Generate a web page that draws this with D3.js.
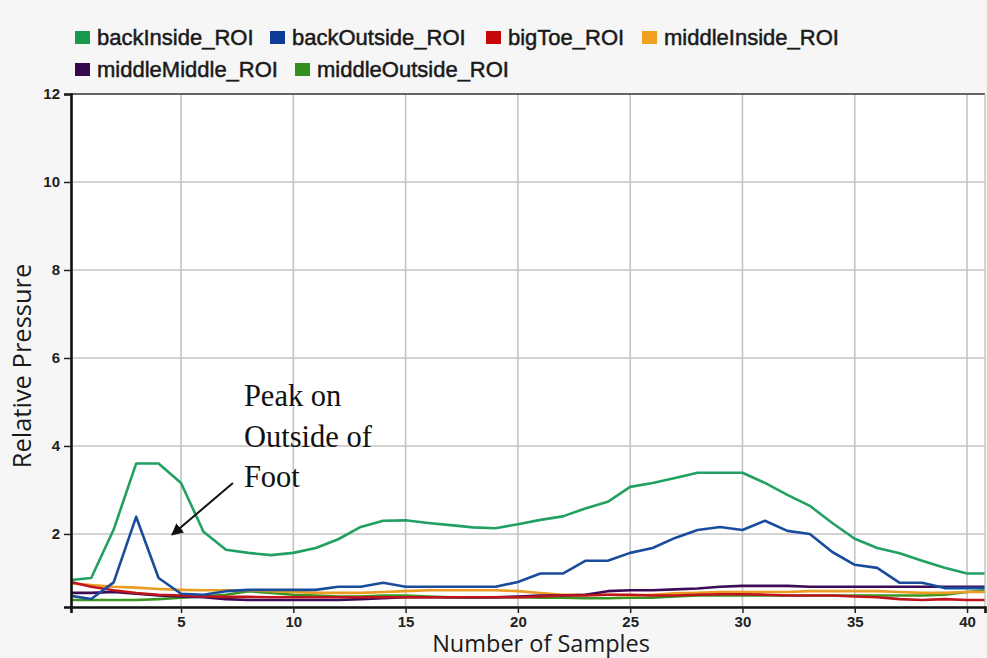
<!DOCTYPE html>
<html>
<head>
<meta charset="utf-8">
<script src="https://cdn.jsdelivr.net/npm/d3@7/dist/d3.min.js"></script>
<style>
  html, body { margin: 0; padding: 0; background: #f6f6f6; }
  svg { display: block; }
</style>
</head>
<body>
<svg id="chart" width="987" height="658"></svg>
<script>
// ---- data ----
const samples = d3.range(0, 42);
const seriesNames = ["backInside_ROI", "backOutside_ROI", "bigToe_ROI", "middleInside_ROI", "middleMiddle_ROI", "middleOutside_ROI"];
const seriesColors = ["#22a062", "#1a4c9c", "#c0141c", "#eb9c22", "#3c0c58", "#3a9422"];
const legendColors = ["#189a4c", "#0c3c98", "#c40808", "#f0a020", "#38084e", "#34901c"];

const backInside = [0.95, 1.0, 2.1, 3.6, 3.6, 3.16, 2.05, 1.64, 1.57, 1.52, 1.57, 1.68, 1.88, 2.16, 2.3, 2.31, 2.25, 2.2, 2.15, 2.13, 2.22, 2.32, 2.4, 2.58, 2.73, 3.07, 3.16, 3.27, 3.39, 3.39, 3.39, 3.16, 2.89, 2.64, 2.25, 1.89, 1.68, 1.56, 1.39, 1.23, 1.1, 1.1];
const backOutside = [0.6, 0.52, 0.9, 2.39, 1.0, 0.64, 0.62, 0.7, 0.73, 0.73, 0.73, 0.73, 0.8, 0.8, 0.89, 0.8, 0.8, 0.8, 0.8, 0.8, 0.91, 1.1, 1.1, 1.39, 1.39, 1.57, 1.68, 1.91, 2.09, 2.16, 2.09, 2.3, 2.07, 2.0, 1.59, 1.3, 1.23, 0.89, 0.89, 0.77, 0.77, 0.77];
const bigToe = [0.92, 0.8, 0.72, 0.66, 0.62, 0.6, 0.58, 0.57, 0.57, 0.56, 0.56, 0.56, 0.56, 0.56, 0.56, 0.56, 0.56, 0.56, 0.56, 0.56, 0.56, 0.58, 0.6, 0.6, 0.62, 0.62, 0.6, 0.6, 0.62, 0.63, 0.63, 0.62, 0.6, 0.6, 0.6, 0.58, 0.56, 0.52, 0.5, 0.52, 0.5, 0.5];
const middleInside = [0.88, 0.84, 0.8, 0.78, 0.75, 0.73, 0.72, 0.72, 0.72, 0.7, 0.68, 0.66, 0.66, 0.66, 0.68, 0.7, 0.72, 0.72, 0.72, 0.72, 0.7, 0.66, 0.62, 0.62, 0.62, 0.6, 0.62, 0.65, 0.66, 0.68, 0.68, 0.68, 0.68, 0.7, 0.7, 0.7, 0.7, 0.68, 0.66, 0.66, 0.68, 0.68];
const middleMiddle = [0.66, 0.66, 0.68, 0.64, 0.6, 0.58, 0.56, 0.52, 0.5, 0.5, 0.5, 0.5, 0.5, 0.52, 0.54, 0.56, 0.56, 0.56, 0.56, 0.56, 0.58, 0.6, 0.6, 0.62, 0.7, 0.72, 0.72, 0.74, 0.76, 0.8, 0.82, 0.82, 0.82, 0.8, 0.8, 0.8, 0.8, 0.8, 0.8, 0.8, 0.8, 0.8];
const middleOutside = [0.5, 0.5, 0.5, 0.5, 0.52, 0.55, 0.58, 0.62, 0.7, 0.66, 0.62, 0.6, 0.58, 0.58, 0.6, 0.6, 0.58, 0.56, 0.55, 0.56, 0.56, 0.55, 0.55, 0.54, 0.54, 0.55, 0.55, 0.58, 0.6, 0.6, 0.6, 0.6, 0.6, 0.6, 0.6, 0.6, 0.6, 0.6, 0.6, 0.62, 0.68, 0.72];

const xTicks = [5, 10, 15, 20, 25, 30, 35, 40];
const yTicks = [2, 4, 6, 8, 10, 12];
const annotationLines = ["Peak on", "Outside of", "Foot"];

// ---- layout ----
const svg = d3.select("#chart");
const W = 987, H = 658;
const plot = { left: 71, right: 985, top: 94, bottom: 607 };

const x = d3.scaleLinear().domain([0.1, 40.8]).range([plot.left, plot.right]);
const y = d3.scaleLinear().domain([0.34, 12]).range([plot.bottom, plot.top]);

svg.append("rect").attr("width", W).attr("height", H).attr("fill", "#f6f6f6");
svg.append("rect")
  .attr("x", plot.left).attr("y", plot.top)
  .attr("width", plot.right - plot.left).attr("height", plot.bottom - plot.top)
  .attr("fill", "#ffffff");

// grid
const grid = svg.append("g").attr("stroke", "#c4c4c4").attr("stroke-width", 1.6);
grid.selectAll("line.v").data(xTicks).join("line")
  .attr("x1", d => x(d)).attr("x2", d => x(d))
  .attr("y1", plot.top).attr("y2", plot.bottom);
grid.selectAll("line.h").data(yTicks.filter(d => d < 12)).join("line")
  .attr("y1", d => y(d)).attr("y2", d => y(d))
  .attr("x1", plot.left).attr("x2", plot.right);

// lines
const defs = svg.append("defs");
defs.append("clipPath").attr("id", "clip")
  .append("rect").attr("x", plot.left).attr("y", plot.top)
  .attr("width", plot.right - plot.left).attr("height", plot.bottom - plot.top);

const allSeries = [backInside, backOutside, bigToe, middleInside, middleMiddle, middleOutside];
const drawOrder = [5, 3, 4, 2, 1, 0];
const line = d3.line().x((d, i) => x(samples[i])).y(d => y(d));
const lg = svg.append("g").attr("clip-path", "url(#clip)");
drawOrder.forEach(k => {
  lg.append("path")
    .datum(allSeries[k])
    .attr("fill", "none")
    .attr("stroke", seriesColors[k])
    .attr("stroke-width", 2.6)
    .attr("stroke-linejoin", "round")
    .attr("d", line);
});

// frame
svg.append("line").attr("x1", plot.left).attr("x2", plot.right).attr("y1", plot.top).attr("y2", plot.top)
  .attr("stroke", "#333").attr("stroke-width", 1.5);
svg.append("line").attr("x1", plot.right).attr("x2", plot.right).attr("y1", plot.top).attr("y2", plot.bottom)
  .attr("stroke", "#bbb").attr("stroke-width", 1.2);

// axes
const tickFont = "'Liberation Sans', Arial, sans-serif";
const xAxis = d3.axisBottom(x).tickValues(xTicks).tickSize(6).tickPadding(3);
const gx = svg.append("g").attr("transform", `translate(0,${plot.bottom})`).call(xAxis);
gx.select(".domain").attr("stroke", "#111").attr("stroke-width", 2.6);
gx.selectAll(".tick line").attr("stroke", "#222").attr("stroke-width", 1.5);
gx.selectAll(".tick text").attr("fill", "#222")
  .style("font-family", tickFont).style("font-size", "15px").style("font-weight", "bold");

const yAxis = d3.axisLeft(y).tickValues(yTicks).tickSize(7).tickPadding(4);
const gy = svg.append("g").attr("transform", `translate(${plot.left},0)`).call(yAxis);
gy.select(".domain").attr("stroke", "#111").attr("stroke-width", 2.6);
gy.selectAll(".tick line").attr("stroke", "#222").attr("stroke-width", 1.5);
gy.selectAll(".tick text").attr("fill", "#222")
  .style("font-family", tickFont).style("font-size", "15px").style("font-weight", "bold");

// axis titles
svg.append("text")
  .attr("x", 541).attr("y", 652)
  .attr("text-anchor", "middle")
  .style("font-family", "'Open Sans', sans-serif").style("font-size", "23.5px")
  .attr("fill", "#1a1a1a")
  .text("Number of Samples");
svg.append("text")
  .attr("transform", `translate(31,366) rotate(-90)`)
  .attr("text-anchor", "middle")
  .style("font-family", "'Open Sans', sans-serif").style("font-size", "25.5px")
  .attr("fill", "#1a1a1a")
  .text("Relative Pressure");

// legend
const legendItems = [
  { i: 0, sx: 75, row: 0 }, { i: 1, sx: 270, row: 0 }, { i: 2, sx: 486, row: 0 }, { i: 3, sx: 642, row: 0 },
  { i: 4, sx: 75, row: 1 }, { i: 5, sx: 295, row: 1 }
];
const rowBase = [45, 77];
const leg = svg.append("g");
legendItems.forEach(it => {
  leg.append("rect").attr("x", it.sx).attr("y", rowBase[it.row] - 14)
    .attr("width", 15).attr("height", 13).attr("fill", legendColors[it.i]);
  leg.append("text").attr("x", it.sx + 22).attr("y", rowBase[it.row])
    .style("font-family", "'Liberation Sans', Arial, sans-serif").style("font-size", "22px")
    .attr("fill", "#1a1a1a").attr("stroke", "#1a1a1a").attr("stroke-width", 0.5)
    .text(seriesNames[it.i]);
});

// annotation
const ann = svg.append("g");
ann.selectAll("text").data(annotationLines).join("text")
  .attr("x", x(7.8))
  .attr("y", (d, i) => y(4.9) + i * 40.5)
  .style("font-family", "'Liberation Serif', 'Times New Roman', serif").style("font-size", "30.5px")
  .attr("fill", "#111")
  .text(d => d);

defs.append("marker").attr("id", "arrow").attr("viewBox", "0 0 10 10")
  .attr("refX", 9).attr("refY", 5).attr("markerWidth", 6).attr("markerHeight", 6)
  .attr("orient", "auto-start-reverse")
  .append("path").attr("d", "M0,0 L10,5 L0,10 z").attr("fill", "#111");
ann.append("line")
  .attr("x1", x(7.31)).attr("y1", y(3.16))
  .attr("x2", x(4.6)).attr("y2", y(1.98))
  .attr("stroke", "#111").attr("stroke-width", 2)
  .attr("marker-end", "url(#arrow)");
</script>
</body>
</html>
